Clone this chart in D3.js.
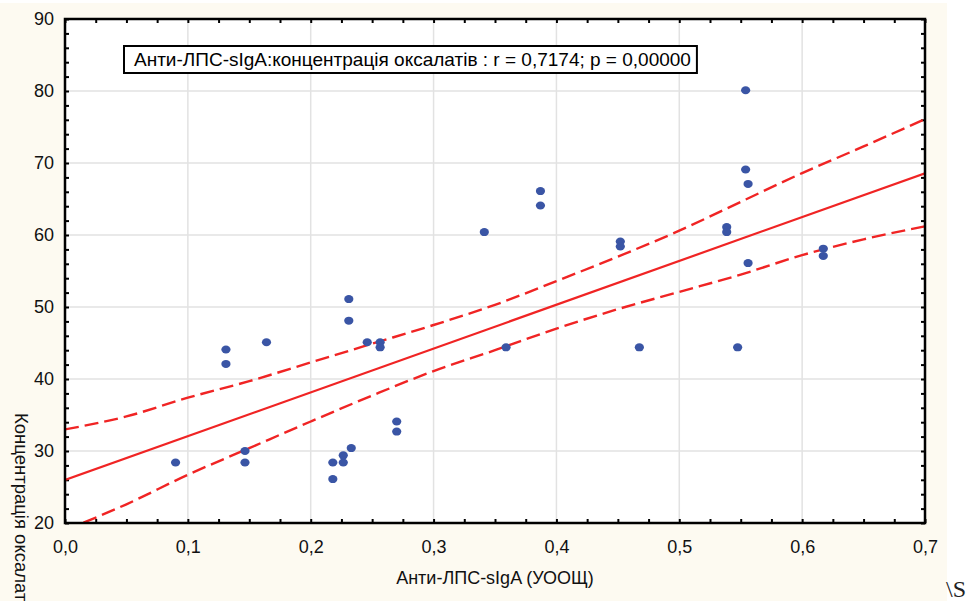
<!DOCTYPE html>
<html>
<head>
<meta charset="utf-8">
<script src="https://cdn.jsdelivr.net/npm/d3@7"></script>
<style>
  body { margin: 0; background: #ffffff; }
  svg { display: block; font-family: "Liberation Sans", Arial, sans-serif; }
</style>
</head>
<body>
<div class="chart"></div>
<script>
'use strict';
// values
var xVals = [0.090, 0.131, 0.131, 0.1465, 0.1465, 0.164, 0.218, 0.218, 0.2265, 0.2265, 0.233, 0.231, 0.231,
  0.246, 0.2565, 0.2565, 0.270, 0.270, 0.3413, 0.359, 0.387, 0.387, 0.452, 0.452, 0.4675,
  0.5386, 0.5386, 0.5475, 0.554, 0.554, 0.556, 0.556, 0.6172, 0.6172];
var yVals = [28.4, 44.1, 42.1, 30.0, 28.4, 45.1, 28.4, 26.1, 28.4, 29.4, 30.4, 51.1, 48.1,
  45.1, 45.1, 44.4, 34.1, 32.7, 60.4, 44.4, 66.1, 64.1, 59.1, 58.4, 44.4,
  61.1, 60.4, 44.4, 80.1, 69.1, 67.1, 56.1, 58.1, 57.1];

// fitted line (intercept, slope) and 95% band as drawn
var fit = [25.97, 60.86];
var bandX = [0, 0.05, 0.1, 0.15, 0.2, 0.25, 0.3, 0.35, 0.4, 0.45, 0.5, 0.55, 0.6, 0.65, 0.7];
var bandHi = [33.0, 34.8, 37.4, 39.7, 42.3, 44.9, 47.5, 50.3, 53.6, 57.0, 60.6, 64.6, 68.6, 72.3, 76.1];
var bandLo = [19.0, 22.6, 26.7, 30.4, 34.1, 37.7, 41.1, 44.0, 47.0, 49.7, 52.1, 54.5, 57.2, 59.4, 61.2];

var legendText = "Анти-ЛПС-sIgA:концентрація оксалатів : r = 0,7174; p = 0,00000";
var xTitle = "Анти-ЛПС-sIgA (УООЩ)";
var yTitle = "Концентрація оксалат";

var margin = {top: 19, left: 65, right: 44, bottom: 78};
var W = 969, H = 601;
var w = W - margin.left - margin.right, h = H - margin.top - margin.bottom;

var svg = d3.select(".chart").append("svg")
  .attr("width", W).attr("height", H);

svg.append("rect").attr("x", 0).attr("y", 3).attr("width", 947).attr("height", H - 3)
  .attr("fill", "#fdfaf1");

var g = svg.append("g").attr("transform", "translate(" + margin.left + "," + margin.top + ")");

var x = d3.scaleLinear().domain([0, 0.7]).range([0, w]);
var y = d3.scaleLinear().domain([20, 90]).range([h, 0]);

g.append("rect").attr("width", w).attr("height", h).attr("fill", "#fff");

svg.append("defs").append("clipPath").attr("id", "clip")
  .append("rect").attr("width", w).attr("height", h);

// grid
g.append("g").selectAll("line").data(d3.range(0.1, 0.65, 0.1)).enter().append("line")
  .attr("x1", d => x(d)).attr("x2", d => x(d)).attr("y1", 0).attr("y2", h)
  .attr("stroke", "#e2e2e2").attr("stroke-width", 1.5);
g.append("g").selectAll("line").data(d3.range(30, 85, 10)).enter().append("line")
  .attr("y1", d => y(d)).attr("y2", d => y(d)).attr("x1", 0).attr("x2", w)
  .attr("stroke", "#e2e2e2").attr("stroke-width", 1.5);

// axes
var xTicks = d3.range(0, 29).map(i => i * 0.025);
var yTicks = d3.range(20, 91, 2);
var fmtX = function(d) { return Math.abs(d * 10 - Math.round(d * 10)) < 1e-6 ? d3.format(".1f")(d).replace(".", ",") : ""; };
var fmtY = function(d) { return d % 10 === 0 ? d : ""; };

var axB = g.append("g").attr("transform", "translate(0," + h + ")")
  .call(d3.axisBottom(x).tickValues(xTicks).tickSizeInner(-4).tickSizeOuter(0).tickPadding(17).tickFormat(fmtX));
var axT = g.append("g")
  .call(d3.axisTop(x).tickValues(xTicks).tickSizeInner(-4).tickSizeOuter(0).tickFormat(""));
var axL = g.append("g")
  .call(d3.axisLeft(y).tickValues(yTicks).tickSizeInner(-4).tickSizeOuter(0).tickPadding(11).tickFormat(fmtY));
var axR = g.append("g").attr("transform", "translate(" + w + ",0)")
  .call(d3.axisRight(y).tickValues(yTicks).tickSizeInner(-4).tickSizeOuter(0).tickFormat(""));

[axB, axT, axL, axR].forEach(function(a) {
  a.select(".domain").remove();
  a.selectAll("line").attr("stroke", "#000").attr("stroke-width", 2);
  a.selectAll("text").attr("font-size", 18).attr("fill", "#111")
    .attr("font-family", "'Liberation Sans', Arial, sans-serif");
});

// fit line and band
var plot = g.append("g").attr("clip-path", "url(#clip)");
plot.append("line")
  .attr("x1", x(0)).attr("y1", y(fit[0]))
  .attr("x2", x(0.7)).attr("y2", y(fit[0] + fit[1] * 0.7))
  .attr("stroke", "#f02424").attr("stroke-width", 2.2);

var bandLine = d3.line().curve(d3.curveMonotoneX).x(d => x(d[0])).y(d => y(d[1]));
[bandHi, bandLo].forEach(function(arr) {
  plot.append("path").datum(bandX.map((v, i) => [v, arr[i]]))
    .attr("d", bandLine).attr("fill", "none")
    .attr("stroke", "#f02424").attr("stroke-width", 2.4)
    .attr("stroke-dasharray", "14,6");
});

// points
g.append("g").selectAll("ellipse").data(xVals).enter().append("ellipse")
  .attr("cx", (d, i) => x(d)).attr("cy", (d, i) => y(yVals[i]))
  .attr("rx", 4.6).attr("ry", 4).attr("fill", "#3a55a5");

// frame
g.append("rect").attr("width", w).attr("height", h)
  .attr("fill", "none").attr("stroke", "#000").attr("stroke-width", 2.5);

// legend box
var leg = g.append("g").attr("transform", "translate(" + (124 - margin.left) + "," + (46 - margin.top) + ")");
var lt = leg.append("text").attr("x", 10).attr("y", 20).attr("font-size", 19).attr("fill", "#000")
  .text(legendText);
var lw = lt.node().getComputedTextLength();
leg.insert("rect", "text").attr("width", lw + 16).attr("height", 27)
  .attr("fill", "#fff").attr("stroke", "#000").attr("stroke-width", 2);

// titles
svg.append("text").attr("x", margin.left + w / 2).attr("y", 584)
  .attr("text-anchor", "middle").attr("font-size", 18).attr("fill", "#111").text(xTitle);
svg.append("text").attr("transform", "translate(15,413) rotate(90)")
  .attr("font-size", 18.5).attr("fill", "#111").text(yTitle);

svg.append("text").attr("x", 946).attr("y", 597)
  .attr("font-family", "'Liberation Serif', 'Times New Roman', serif")
  .attr("font-size", 24).attr("fill", "#222").text("\\S");
</script>
</body>
</html>
